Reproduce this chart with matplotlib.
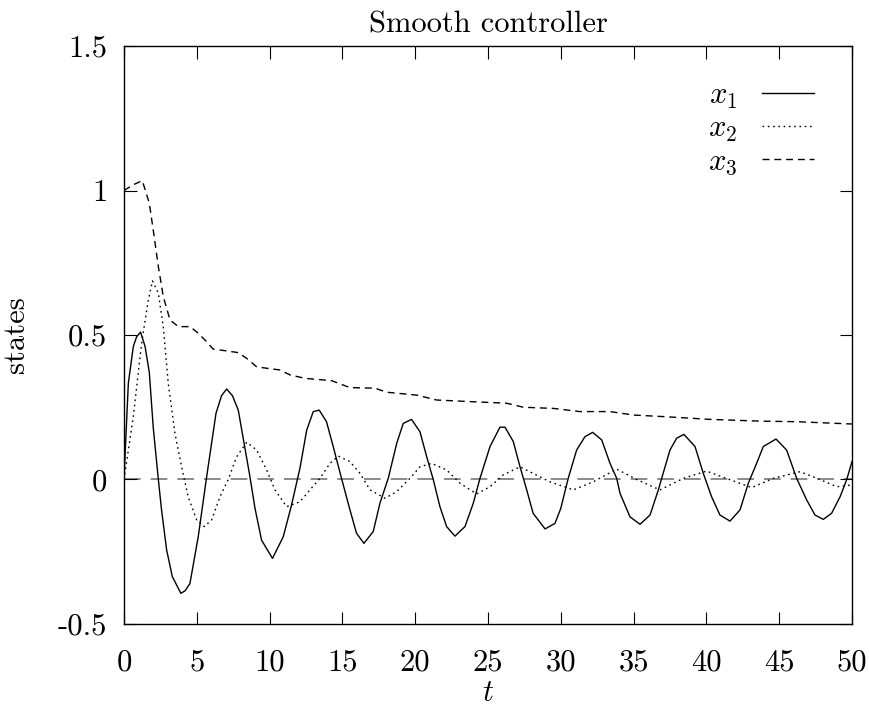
import matplotlib
matplotlib.use("Agg")
from matplotlib import pyplot as plt

plt.rcParams['font.family'] = ['cmr10', 'DejaVu Serif']
plt.rcParams['mathtext.fontset'] = 'cm'
plt.rcParams['axes.unicode_minus'] = False

# values
t1 = [0, 0.3, 0.64, 0.87, 1.14, 1.45, 1.74, 2.01, 2.36, 2.58, 2.93, 3.32, 3.91, 4.2,
      4.53, 5.1, 5.68, 6.32, 6.7, 7.05, 7.45, 7.85, 8.65, 9.0, 9.45, 10.2, 10.94, 11.5,
      12.09, 12.55, 13.0, 13.41, 13.91, 14.37, 14.94, 15.52, 15.97, 16.48, 17.12, 17.58,
      18.15, 18.73, 19.18, 19.75, 20.33, 20.79, 21.24, 21.7, 22.16, 22.73, 23.42, 23.99,
      24.45, 25.14, 25.82, 26.17, 26.74, 27.2, 27.66, 28.1, 28.92, 29.6, 30.0, 30.51,
      31.09, 31.66, 32.19, 32.81, 33.38, 33.84, 34.07, 34.75, 35.44, 36.13, 36.7, 36.93,
      37.5, 37.96, 38.46, 39.22, 39.79, 40.36, 40.93, 41.62, 42.31, 42.88, 43.45, 43.91,
      44.78, 45.51, 46.2, 46.89, 47.46, 48.03, 48.6, 49.18, 49.64, 50]
x1 = [0, 0.333, 0.46, 0.494, 0.51, 0.46, 0.37, 0.18, 0.0, -0.105, -0.244, -0.336, -0.394, -0.385,
      -0.36, -0.198, 0.01, 0.229, 0.29, 0.313, 0.29, 0.24, 0.01, -0.1, -0.21, -0.273, -0.198, -0.09,
      0.04, 0.171, 0.235, 0.24, 0.2, 0.114, 0.004, -0.105, -0.186, -0.221, -0.18, -0.082,
      0.004, 0.125, 0.194, 0.208, 0.165, 0.079, 0.0, -0.094, -0.163, -0.196, -0.163, -0.082,
      0.004, 0.114, 0.181, 0.181, 0.131, 0.044, -0.036, -0.117, -0.171, -0.152, -0.1, 0.004,
      0.102, 0.148, 0.163, 0.137, 0.056, 0.004, -0.048, -0.129, -0.155, -0.123, -0.036, 0.004,
      0.102, 0.143, 0.156, 0.114, 0.021, -0.06, -0.123, -0.144, -0.105, -0.013, 0.056, 0.114,
      0.14, 0.102, 0.004, -0.071, -0.123, -0.138, -0.117, -0.06, 0.0, 0.062]

t2 = [0, 0.64, 1.21, 1.67, 1.96, 2.36, 2.7, 3.04, 3.5, 3.96, 4.41, 4.99, 5.51, 6.02, 6.59,
      7.16, 7.74, 8.43, 9.11, 9.8, 10.37, 11.17, 12.09, 12.77, 13.46, 14.15, 14.72, 15.52,
      16.21, 16.9, 17.93, 18.73, 19.64, 20.33, 21.13, 22.16, 23.08, 24.22, 25.14, 26.05,
      27.2, 28.1, 29.26, 30.86, 32.23, 33.84, 35.21, 36.81, 38.42, 40.0, 41.37, 43.11,
      44.6, 46.43, 47.8, 48.95, 50]
x2 = [0, 0.217, 0.471, 0.621, 0.687, 0.644, 0.529, 0.333, 0.16, 0.044, -0.06, -0.14, -0.163,
      -0.14, -0.06, 0.0, 0.079, 0.129, 0.102, 0.033, -0.036, -0.094, -0.077, -0.036, 0.004,
      0.056, 0.081, 0.062, 0.021, -0.036, -0.065, -0.042, 0.004, 0.044, 0.056, 0.033, -0.013,
      -0.05, -0.025, 0.016, 0.044, 0.021, -0.008, -0.036, -0.008, 0.036, 0.0, -0.036, 0.004,
      0.029, 0.004, -0.028, 0.004, 0.027, 0.0, -0.025, -0.019]

t3 = [0, 0.64, 1.26, 1.74, 2.01, 2.36, 2.7, 3.16, 3.73, 4.53, 4.99, 5.56, 6.13, 7.05, 7.85,
      8.43, 9.11, 9.8, 10.71, 11.4, 12.43, 14.26, 15.52, 17.24, 18.04, 20.1, 21.48, 23.99,
      26.28, 27.43, 29.49, 31.32, 33.38, 34.99, 37.28, 40.25, 43.68, 46.2, 50]
x3 = [1.0, 1.02, 1.034, 0.956, 0.863, 0.737, 0.633, 0.552, 0.529, 0.529, 0.511, 0.483, 0.451,
      0.445, 0.439, 0.419, 0.39, 0.385, 0.379, 0.362, 0.35, 0.342, 0.318, 0.316, 0.302, 0.292,
      0.275, 0.269, 0.264, 0.25, 0.246, 0.235, 0.235, 0.223, 0.217, 0.208, 0.202, 0.2, 0.192]

xticks = [0, 5, 10, 15, 20, 25, 30, 35, 40, 45, 50]
yticks = [-0.5, 0, 0.5, 1, 1.5]
ytick_labels = ['-0.5', '0', '0.5', '1', '1.5']

fs = 22

fig = plt.figure(figsize=(8.7, 7.09), dpi=100)
ax = fig.add_axes([0.1425, 0.1199, 0.8368, 0.8152])

# gnuplot style zero axis
ax.axhline(0, color='#777777', lw=1.2, dashes=(10, 6), zorder=1)

ax.plot(t1, x1, color='black', lw=1.0, label='$x_1$')
ax.plot(t2, x2, color='black', lw=1.0, dashes=(1.2, 2.6), label='$x_2$')
ax.plot(t3, x3, color='black', lw=1.0, dashes=(5, 3.5), label='$x_3$')

ax.set_xlim(0, 50)
ax.set_ylim(-0.5, 1.5)
ax.set_xticks(xticks)
ax.set_xticklabels([str(v) for v in xticks])
ax.set_yticks(yticks)
ax.set_yticklabels(ytick_labels)
ax.tick_params(direction='in', length=9, width=0.8, top=True, right=True, labelsize=fs)
ax.tick_params(axis='x', pad=18)
ax.tick_params(axis='y', pad=12)
for s in ax.spines.values():
    s.set_linewidth(1.0)

ax.set_title('Smooth controller', fontsize=fs, pad=10)
ax.set_xlabel('$t$', fontsize=fs, labelpad=2)
ax.set_ylabel('states', fontsize=fs, labelpad=20)

ax.legend(loc='upper right', bbox_to_anchor=(0.985, 0.985), frameon=False, markerfirst=False,
          fontsize=fs, handlelength=1.7, labelspacing=0.15, handletextpad=0.8)

fig.savefig('out.png', dpi=100)
